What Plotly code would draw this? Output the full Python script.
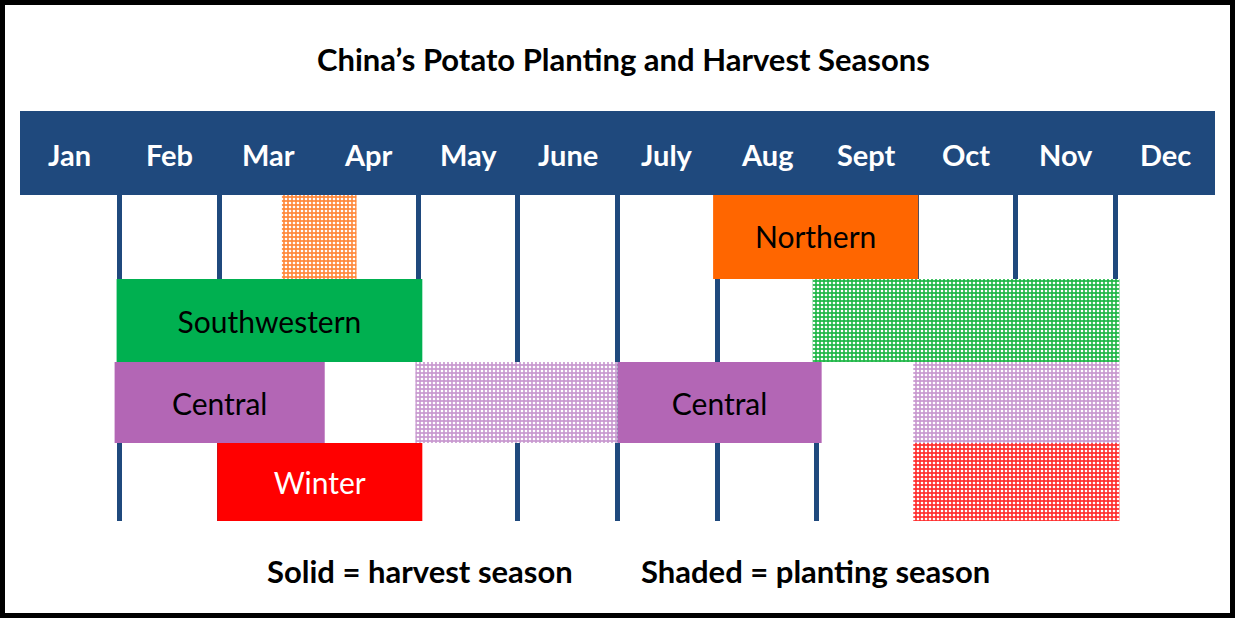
import plotly.graph_objects as go

# ---- data ----
months = ["Jan", "Feb", "Mar", "Apr", "May", "June", "July", "Aug", "Sept", "Oct", "Nov", "Dec"]
month_bounds = [1, 2, 3, 4, 5, 6, 7, 8, 9, 10, 11]
rows = ["Northern", "Southwestern", "Central", "Winter"]

# harvest (solid) segments: region, start month, end month, label
harvest_region = ["Northern", "Southwestern", "Central", "Central", "Winter"]
harvest_start = [6.96, 0.97, 0.95, 6.0, 1.98]
harvest_end = [9.02, 4.04, 3.06, 8.05, 4.04]
harvest_label = ["Northern", "Southwestern", "Central", "Central", "Winter"]

# planting (shaded) segments
plant_region = ["Northern", "Southwestern", "Central", "Central", "Winter"]
plant_start = [2.63, 7.96, 3.97, 8.97, 8.97]
plant_end = [3.38, 11.04, 6.0, 11.04, 11.04]

# ---- styling ----
region_color = {"Northern": "#FF6600", "Southwestern": "#00B050", "Central": "#B366B5", "Winter": "#FF0000"}
shade_color = {"Northern": "#FF8A3D", "Southwestern": "#22B84A", "Central": "#C99AD0", "Winter": "#FF3030"}
label_color = {"Northern": "black", "Southwestern": "black", "Central": "black", "Winter": "white"}

W, H = 1235, 618
L, R, T, B = 20, 20, 193, 97
PH = H - T - B
PW = W - L - R
NAVY = "#1F497D"
FONT = "Lato"

# row bands in pixel rows (top, bottom) -> y-axis uses pixel units from plot bottom
row_band_px = {"Northern": (193, 279), "Southwestern": (279, 362), "Central": (362, 443), "Winter": (443, 521)}


def ycen(r):
    t, b = row_band_px[r]
    return (H - B) - (t + b) / 2


def yw(r):
    t, b = row_band_px[r]
    return b - t


def py(p):  # pixel y -> paper
    return (H - B - p) / PH


def px(p):  # pixel x -> paper
    return (p - L) / PW


fig = go.Figure()

fig.add_trace(go.Bar(
    orientation="h",
    y=[ycen(r) for r in harvest_region],
    base=harvest_start,
    x=[e - s for s, e in zip(harvest_start, harvest_end)],
    width=[yw(r) for r in harvest_region],
    marker=dict(color=[region_color[r] for r in harvest_region], line=dict(width=0)),
    text=harvest_label,
    textposition="inside",
    insidetextanchor="middle",
    textangle=0,
    textfont=dict(family=FONT, size=30, color=[label_color[r] for r in harvest_region]),
    hoverinfo="skip",
    showlegend=False,
))

fig.add_trace(go.Bar(
    orientation="h",
    y=[ycen(r) for r in plant_region],
    base=plant_start,
    x=[e - s for s, e in zip(plant_start, plant_end)],
    width=[yw(r) for r in plant_region],
    marker=dict(
        color="white",
        line=dict(width=0),
        pattern=dict(
            shape=".",
            fgcolor="white",
            bgcolor=[shade_color[r] for r in plant_region],
            size=4,
            solidity=0.35,
            fillmode="replace",
        ),
    ),
    hoverinfo="skip",
    showlegend=False,
))

shapes = [
    dict(type="rect", xref="paper", yref="paper", x0=0, x1=1, y0=py(195), y1=py(111),
         fillcolor=NAVY, line=dict(width=0), layer="above"),
    dict(type="rect", xref="paper", yref="paper", x0=px(2.5), x1=px(W - 2.5), y0=py(H - 2.5), y1=py(2.5),
         line=dict(color="black", width=5), fillcolor="rgba(0,0,0,0)", layer="above"),
]

annotations = []
for i, m in enumerate(months):
    annotations.append(dict(x=i + 0.5, xref="x", y=py(155), yref="paper", text=m, showarrow=False,
                            font=dict(family=FONT, size=29, color="white", weight="bold"),
                            xanchor="center", yanchor="middle"))
annotations.append(dict(x=px(623), xref="paper", y=py(59), yref="paper",
                        text="China’s Potato Planting and Harvest Seasons", showarrow=False,
                        font=dict(family=FONT, size=31, color="black", weight="bold"),
                        xanchor="center", yanchor="middle"))
annotations.append(dict(x=px(420), xref="paper", y=py(571), yref="paper",
                        text="Solid = harvest season", showarrow=False,
                        font=dict(family=FONT, size=31, color="black", weight="bold"),
                        xanchor="center", yanchor="middle"))
annotations.append(dict(x=px(815), xref="paper", y=py(571), yref="paper",
                        text="Shaded = planting season", showarrow=False,
                        font=dict(family=FONT, size=31, color="black", weight="bold"),
                        xanchor="center", yanchor="middle"))

fig.update_layout(
    width=W, height=H,
    margin=dict(l=L, r=R, t=T, b=B),
    paper_bgcolor="white",
    plot_bgcolor="white",
    barmode="overlay",
    shapes=shapes,
    annotations=annotations,
    xaxis=dict(range=[0, 12], tickvals=month_bounds, showticklabels=False, ticks="",
               showgrid=True, gridcolor=NAVY, gridwidth=5, zeroline=False, showline=False,
               fixedrange=True),
    yaxis=dict(range=[0, PH], showticklabels=False, showgrid=False, zeroline=False,
               showline=False, fixedrange=True),
    uniformtext=dict(minsize=10, mode="show"),
)

fig.write_html("out.html", config={"displayModeBar": False},
               post_script="document.body.style.margin='0';document.body.style.overflow='hidden';")
